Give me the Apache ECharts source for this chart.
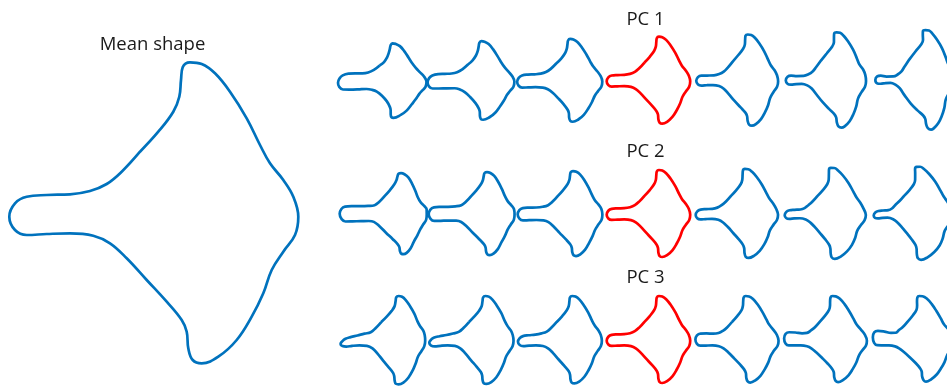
<!DOCTYPE html>
<html><head><meta charset="utf-8">
<script src="https://cdn.jsdelivr.net/npm/echarts@6/dist/echarts.min.js"></script>
<style>html,body{margin:0;padding:0;background:#fff}#c{width:947px;height:388px}</style>
</head><body><div id="c"></div>
<script>
// Mean shape outline (shape-frame units), clockwise from the tail tip
const meanX = [9.3, 15, 26.7, 46.7, 70, 90, 106.7, 121.7, 140, 158.3, 173.3, 179.3, 181, 182.7, 190, 201.7, 215, 230, 246.7, 260, 270, 283.3, 293.3, 298.3, 295, 283.3, 271.7, 263.3, 251.7, 236.7, 218.3, 201.7, 192.7, 188.3, 186.7, 181.7, 166.7, 146.7, 126.7, 110, 93.3, 70, 46.7, 26.7, 15];
const meanY = [216.7, 203.3, 196.7, 195, 194.3, 191, 184, 171.7, 151.7, 131.7, 111.7, 96.7, 80, 67.3, 62.3, 64, 73.3, 91.7, 118.3, 145, 163.3, 180, 196.7, 216.7, 235, 251.7, 270, 293.3, 316.7, 340, 356.7, 363.3, 360, 348.3, 331.7, 320, 301.7, 280, 258.3, 243.3, 235.7, 233.3, 234, 235, 230];

// Principal component modes (displacement per unit score), read from the rows
const pc1dx = [-0.5, -0.3, -0.1, -0.1, 0, -1.7, -2.8, -4.4, -5, -3.9, -2.2, -2.2, -3, -3.4, -2.9, -2.8, -3.3, -3.3, -2.8, -2.7, -3.3, -3.5, -5, -6.2, -6.2, -6.5, -6.8, -5.6, -4.8, -3.8, -3.2, -0.4, -1.1, -1.6, -2.1, -2.8, -4.4, -5.4, -6.1, -6, -5.4, -3.3, -1.1, -0.4, 0];
const pc1dy = [-1.6, -1.2, 0.2, 1.7, 1.8, 0.7, -0.7, -1.8, -3.4, -6.1, -7.8, -7.8, -8.3, -8.2, -7.6, -7.7, -7.2, -6.8, -5.6, -3.3, -2.2, -1.7, -1.1, -0.4, -0.3, 1.2, 3.3, 5.1, 6.9, 7.3, 7.9, 6.8, 6.3, 5.5, 5, 5, 5.2, 4.5, 2, -0.9, -2.5, -3.8, -3.8, -3.3, -2];
const pc2dx = [-2.4, -2.5, -2.8, -4.2, -5.8, -8.3, -10.2, -10.1, -10.9, -10.8, -10.8, -11.3, -11.8, -12.5, -13, -13, -13, -12, -10.5, -8.8, -8.7, -8.5, -8, -6.5, -7, -7.5, -8, -7.5, -7.2, -8.3, -10, -11.9, -12.5, -12.3, -12.1, -11.7, -11.2, -10, -9.2, -8.3, -8, -6.7, -4.7, -3.3, -2.8];
const pc2dy = [1, 2, 2.5, 2.5, 2.3, 1.5, 0, -0.7, 0, 0, 0, 0, -1.7, -2.7, -3.6, -4.3, -4.8, -5.2, -5.2, -3.5, -3.3, -2.2, -0.3, 0.5, 0.5, 0.5, 1, 2, 2.3, 2, 2.6, 3.3, 2.6, 1.7, 0.9, 0.5, 0, 0.3, 0.5, 0.5, -1, -2, -2, -1.8, -0.8];
const pc3dx = [-3.4, -3.7, -3.3, -2.5, -2.7, -4.2, -5.7, -6.3, -6.8, -7, -7.7, -9, -9.7, -9.8, -10.1, -10.2, -9.8, -9.2, -9.2, -8.6, -8.3, -7.5, -5.8, -4.7, -4.7, -5.3, -5.2, -5.5, -6, -5.8, -6.2, -6.2, -6, -6.2, -6.2, -6.7, -6.5, -6.7, -6.7, -6.7, -5.8, -5, -4.2, -4.2, -3.8];
const pc3dy = [-3.8, -5, -4.5, -3.2, -1.5, -0.5, -1.3, -0.7, -0.3, -0.7, -0.7, -0.5, 0, 0, 0, -0.3, -0.7, -0.7, -1.3, -1.7, -1.2, -0.7, -0.3, 0, -0.5, -0.5, -0.8, -0.5, -0.7, -1.7, -1.7, -1.5, -2, -2.5, -2.9, -3, -2.5, -2, -0.7, 0, 0.3, 0, -0.3, -0.8, -1.8];

const scores = [-3, -2, -1, 0, 1, 2, 3];
const pcLabels = ['PC 1', 'PC 2', 'PC 3'];
const meanLabel = 'Mean shape';

const modes = [[pc1dx, pc1dy], [pc2dx, pc2dy], [pc3dx, pc3dy]];
const START = 8; // begin the closed loop on a straight stretch

function outline(dx, dy, s) {
  const n = meanX.length, pts = [];
  for (let k = 0; k <= n; k++) {
    const i = (START + k) % n;
    pts.push([meanX[i] + s * (dx ? dx[i] : 0), meanY[i] + s * (dy ? dy[i] : 0)]);
  }
  return pts;
}

const FX = 320, FY = 388;
const scale = 0.289;
const colLeft0 = 334.9, colStep = 89.7;
const rowTop = [18.7, 152, 278];
const BLUE = '#0072BD', RED = '#FF0000';

const grid = [], xAxis = [], yAxis = [], series = [];
function addPanel(left, top, w, h, data, color, width) {
  const idx = grid.length;
  grid.push({ left: left, top: top, width: w, height: h, show: false, containLabel: false, outerBoundsMode: 'none' });
  xAxis.push({ type: 'value', gridIndex: idx, min: 0, max: FX, show: false });
  yAxis.push({ type: 'value', gridIndex: idx, min: 0, max: FY, inverse: true, show: false });
  series.push({
    type: 'line', xAxisIndex: idx, yAxisIndex: idx, data: data,
    symbol: 'none', showSymbol: false, smooth: 0.4, clip: false, silent: true,
    lineStyle: { color: color, width: width }
  });
}

addPanel(0, 0, FX, FY, outline(null, null, 0), BLUE, 2.7);
modes.forEach((m, r) => {
  scores.forEach((s, c) => {
    addPanel(colLeft0 + c * colStep, rowTop[r], FX * scale, FY * scale,
      outline(m[0], m[1], s), s === 0 ? RED : BLUE, 2.7);
  });
});

const FONT = '18.5px "Open Sans"';
const graphic = [
  { type: 'text', style: { x: 152.5, y: 44.4, text: meanLabel, font: FONT, fill: '#1a1a1a', textAlign: 'center', textVerticalAlign: 'middle' } }
];
const labelY = [19.7, 152.2, 277.7];
pcLabels.forEach((t, r) => {
  graphic.push({ type: 'text', style: { x: 645.5, y: labelY[r], text: t, font: FONT, fill: '#1a1a1a', textAlign: 'center', textVerticalAlign: 'middle' } });
});

const chart = echarts.init(document.getElementById('c'), null, { renderer: 'canvas' });
chart.setOption({ animation: false, grid, xAxis, yAxis, series, graphic });
</script></body></html>
